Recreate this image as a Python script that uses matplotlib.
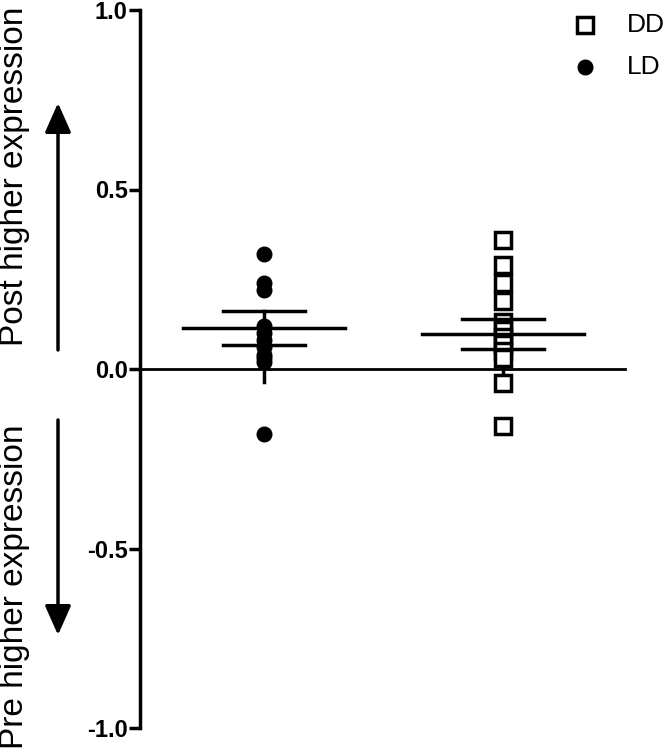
import matplotlib
matplotlib.use("Agg")
import matplotlib.pyplot as plt
from matplotlib.lines import Line2D
import numpy as np

plt.rcParams['font.family'] = ['Liberation Sans', 'DejaVu Sans']

groups = ["LD", "DD"]
ld_vals = [0.32, 0.24, 0.22, 0.12, 0.10, 0.08, 0.06, 0.04, 0.03, 0.02, -0.18]
dd_vals = [0.36, 0.29, 0.24, 0.19, 0.13, 0.11, 0.09, 0.07, 0.05, 0.03, -0.04, -0.16]
means = [0.114, 0.098]
sems = [0.047, 0.041]
stem_low = [-0.035, -0.03]
yticks = [-1.0, -0.5, 0.0, 0.5, 1.0]

W, H = 670, 754
ax_l, ax_top, ax_bot = 140, 10, 728
fig = plt.figure(figsize=(W/100, H/100), dpi=100)
ax = fig.add_axes([ax_l/W, (H-ax_bot)/H, (W-ax_l)/W, (ax_bot-ax_top)/H])

# data x positions -> pixels: LD at 264, DD at 503
ppu = 503 - 264
x0 = 1 - (264 - ax_l)/ppu
x1 = x0 + (W - ax_l)/ppu
xs = [1, 2]
for x, m, s, lo in zip(xs, means, sems, stem_low):
    ax.plot([x, x], [lo, m + s], color='black', lw=2.5, zorder=2)
    ax.plot([x - 81/ppu, x + 81/ppu], [m, m], color='black', lw=2.5, zorder=4)
    ax.plot([x - 41/ppu, x + 41/ppu], [m + s, m + s], color='black', lw=2.5, zorder=4)
    ax.plot([x - 41/ppu, x + 41/ppu], [m - s, m - s], color='black', lw=2.5, zorder=4)

ax.plot(np.full(len(ld_vals), xs[0]), ld_vals, 'o', color='black', ms=10.5,
        zorder=3)
ax.plot(np.full(len(dd_vals), xs[1]), dd_vals, 's', mfc='white', mec='black',
        mew=2.5, ms=11, zorder=3)

# zero line
ax.plot([x0, 2 + 122/ppu], [0, 0], color='black', lw=2, zorder=1, clip_on=False)

ax.set_xlim(x0, x1)
ax.set_ylim(-1.0, 1.0)
ax.set_yticks(yticks)
ax.set_yticklabels(["%.1f" % t for t in yticks], fontweight='bold', fontsize=17)
ax.tick_params(axis='y', length=8, width=2.5, pad=1)
ax.set_xticks([])
for sp in ['top', 'right', 'bottom']:
    ax.spines[sp].set_visible(False)
ax.spines['left'].set_linewidth(2.5)

# legend, placed by hand
fig.add_artist(Line2D([585/W], [1 - 25/H], marker='s', ms=11, mfc='white',
                      mec='black', mew=2.5, transform=fig.transFigure))
fig.add_artist(Line2D([585/W], [1 - 67/H], marker='o', ms=10.5, color='black',
                      transform=fig.transFigure))
fig.text(627/W, 1 - 25/H, "DD", fontsize=19, ha='left', va='center')
fig.text(627/W, 1 - 67/H, "LD", fontsize=19, ha='left', va='center')

fig.text(15/W, 1 - 176/H, "Post higher expression", rotation=90,
         ha='center', va='center', fontsize=24)
fig.text(15/W, 1 - 587/H, "Pre higher expression", rotation=90,
         ha='center', va='center', fontsize=24)
for a, b in [(350, 103), (420, 635)]:
    fig.add_artist(matplotlib.patches.FancyArrowPatch(
        (58/W, 1 - a/H), (58/W, 1 - b/H), transform=fig.transFigure,
        arrowstyle='-|>,head_length=18,head_width=8', lw=2.5, color='black',
        mutation_scale=1, shrinkA=0, shrinkB=0))

fig.savefig("out.png", dpi=100)
